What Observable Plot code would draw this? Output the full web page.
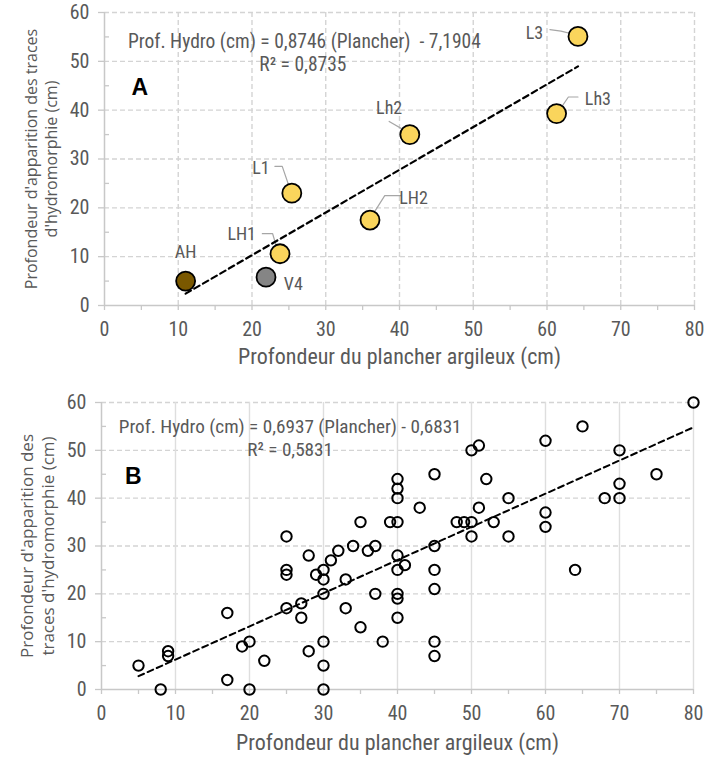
<!DOCTYPE html>
<html><head><meta charset="utf-8">
<script src="https://cdn.jsdelivr.net/npm/d3@7"></script>
<script src="https://cdn.jsdelivr.net/npm/@observablehq/plot@0.6"></script>
<style>
body{margin:0;background:#fff;width:706px;height:760px;overflow:hidden}
#chart svg{display:block}
</style></head><body><div id="chart"></div>
<script>
// ---------- Panel A data ----------
const namesA   = ["AH","V4","LH1","L1","LH2","Lh2","Lh3","L3"];
const plancherA = [11.0, 21.9, 23.8, 25.4, 36.0, 41.4, 61.3, 64.2];
const hydroA    = [5.0, 5.8, 10.6, 23.0, 17.5, 35.0, 39.3, 55.1];
const groupA    = ["AH","V4","L","L","L","L","L","L"];
const colorsA   = {AH:"#7a5800", V4:"#858585", L:"#fad55c"};
// label anchor positions (data units)
const labelXA = [11.0, 25.6, 18.6, 21.2, 41.9, 38.6, 66.9, 58.3];
const labelYA = [11.0, 4.4, 14.5, 28.1, 22.0, 40.3, 42.3, 55.8];
// leader lines (polyline per label)
const leadersA = [
  {name:"V4",  x:[22.4, 23.0], y:[5.4, 4.6]},
  {name:"LH1", x:[21.4, 22.8, 23.5], y:[14.7, 14.7, 11.1]},
  {name:"L1",  x:[23.1, 24.1, 25.3], y:[28.5, 28.5, 23.2]},
  {name:"LH2", x:[40.2, 38.0, 36.2], y:[22.5, 22.5, 18.2]},
  {name:"Lh2", x:[38.6, 41.1], y:[37.7, 35.5]},
  {name:"Lh3", x:[64.2, 62.9, 61.5], y:[42.7, 42.7, 39.6]},
  {name:"L3",  x:[60.4, 61.9, 64.0], y:[56.5, 56.2, 55.4]}
];
const slopeA = 0.8746, interceptA = -7.1904;
const eqA1 = "Prof. Hydro (cm) = 0,8746 (Plancher)  - 7,1904";
const eqA2 = "R² = 0,8735";

// ---------- Panel B data ----------
const plancherB = [5,8,9,9,17,17,19,20,20,22,
  25,25,25,25,27,27,28,28,29,
  30,30,30,30,30,30,31,32,33,33,
  34,35,35,36,37,37,38,39,
  40,40,40,40,40,40,40,40,40,41,
  43,45,45,45,45,45,45,
  48,49,50,50,50,51,51,52,53,
  55,55,60,60,60,64,65,68,
  70,70,70,75,80];
const hydroB = [5,0,8,7,16,2,9,10,0,6,
  32,25,24,17,18,15,28,8,24,
  25,23,20,10,5,0,27,29,23,17,
  30,35,13,29,30,20,10,35,
  44,42,40,35,28,25,20,19,15,26,
  38,45,30,25,21,10,7,
  35,35,35,32,50,51,38,44,35,
  40,32,52,37,34,25,55,40,
  50,43,40,45,60];
const slopeB = 0.6937, interceptB = -0.6831;
const eqB1 = "Prof. Hydro (cm) = 0,6937 (Plancher) - 0,6831";
const eqB2 = "R² = 0,5831";

// ---------- axes ----------
const xTicks = [0,10,20,30,40,50,60,70,80];
const xMinor = [5,15,25,35,45,55,65,75];
const yTicks = [0,10,20,30,40,50,60];
const yMinor = [5,15,25,35,45,55];
const xTitle = "Profondeur du plancher argileux (cm)";
const yTitleA = "Profondeur d'apparition des traces\nd'hydromorphie (cm)";
const yTitleB = "Profondeur d'apparition des\ntraces d'hydromorphie (cm)";

const TXT = "#595959";
const narrow = "'Liberation Sans Narrow','Roboto Condensed','Arial Narrow',sans-serif";
const wide = "'Open Sans',sans-serif";

function trend(xs, a, b) {
  const lo = d3.min(xs), hi = d3.max(xs);
  return [{x: lo, y: a*lo + b}, {x: hi, y: a*hi + b}];
}

function frameMarks(vDash) {
  return [
    Plot.gridY(yTicks.slice(1), {stroke:"#d4d4d4", strokeOpacity:1, strokeWidth:1.4, strokeDasharray:"5,3"}),
    Plot.gridX(xTicks.slice(1), {stroke: vDash ? "#d4d4d4" : "#dedede", strokeOpacity:1, strokeWidth:1.4, strokeDasharray: vDash ? "5,3" : null}),
    Plot.ruleY([0], {stroke:"#c8c8c8", strokeWidth:1.5}),
    Plot.ruleX([0], {stroke:"#c8c8c8", strokeWidth:1.5}),
    Plot.axisX(xTicks, {tickSize:5, tickPadding:11, stroke:"#c8c8c8", strokeWidth:1.3, fill:TXT, fontSize:20, fontFamily:narrow, label:null}),
    Plot.axisX(xMinor, {tickSize:5, tickFormat:() => "", stroke:"#c8c8c8", strokeWidth:1.3, label:null}),
    Plot.axisY(yTicks, {tickSize:6, tickPadding:9, stroke:"#c8c8c8", strokeWidth:1.3, fill:TXT, fontSize:20, fontFamily:narrow, label:null}),
    Plot.axisY(yMinor, {tickSize:-5, tickFormat:() => "", stroke:"#c8c8c8", strokeWidth:1.3, label:null})
  ];
}

// ---------- Panel A ----------
const dataA = namesA.map((n,i) => ({name:n, x:plancherA[i], y:hydroA[i], g:groupA[i], lx:labelXA[i], ly:labelYA[i]}));
const leaderRows = leadersA.flatMap(l => l.x.map((x,i) => ({name:l.name, x, y:l.y[i]})));

const plotA = Plot.plot({
  width:706, height:372,
  marginTop:12, marginBottom:67, marginLeft:104, marginRight:12,
  x:{domain:[0,80], label:null},
  y:{domain:[0,60], label:null},
  style:{fontFamily:narrow, color:TXT, background:"#fff", overflow:"visible"},
  marks:[
    ...frameMarks(true),
    Plot.line(leaderRows, {x:"x", y:"y", z:"name", stroke:"#a6a6a6", strokeWidth:1.2}),
    Plot.line(trend(plancherA, slopeA, interceptA), {x:"x", y:"y", stroke:"#000", strokeWidth:2.2, strokeDasharray:"6,4"}),
    Plot.dot(dataA, {x:"x", y:"y", r:9.5, fill:d => colorsA[d.g], stroke:"#000", strokeWidth:1.8}),
    Plot.text(dataA, {x:"lx", y:"ly", text:"name", fill:TXT, fontSize:18, fontFamily:narrow}),
    Plot.text([eqA1], {x:27.1, y:54.1, text:d=>d, fill:TXT, fontSize:19.5, fontFamily:narrow}),
    Plot.text([eqA2], {x:26.9, y:49.4, text:d=>d, fill:TXT, fontSize:19.5, fontFamily:narrow}),
    Plot.text(["A"], {x:4.8, y:44.6, text:d=>d, fill:"#000", fontSize:23, fontWeight:"bold", fontFamily:"'Liberation Sans',sans-serif"}),
    Plot.text([xTitle], {frameAnchor:"bottom", dy:58, text:d=>d, fill:TXT, fontSize:22, fontFamily:narrow}),
    Plot.text([yTitleA], {frameAnchor:"left", dx:-64, rotate:-90, textAnchor:"middle", text:d=>d, fill:TXT, fontSize:16, fontFamily:wide, lineHeight:1.25})
  ]
});

// ---------- Panel B ----------
const dataB = plancherB.map((x,i) => ({x, y:hydroB[i]}));
const plotB = Plot.plot({
  width:706, height:388,
  marginTop:30, marginBottom:71, marginLeft:101, marginRight:13,
  x:{domain:[0,80], label:null},
  y:{domain:[0,60], label:null},
  style:{fontFamily:narrow, color:TXT, background:"#fff", overflow:"visible"},
  marks:[
    ...frameMarks(false),
    Plot.line(trend(plancherB, slopeB, interceptB), {x:"x", y:"y", stroke:"#000", strokeWidth:2, strokeDasharray:"6,4"}),
    Plot.dot(dataB, {x:"x", y:"y", r:5.2, fill:"#fff", fillOpacity:0, stroke:"#000", strokeWidth:2}),
    Plot.text([eqB1], {x:25.5, y:55.0, text:d=>d, fill:TXT, fontSize:19.2, fontFamily:narrow}),
    Plot.text([eqB2], {x:25.5, y:50.0, text:d=>d, fill:TXT, fontSize:19.2, fontFamily:narrow}),
    Plot.text(["B"], {x:4.3, y:44.6, text:d=>d, fill:"#000", fontSize:23, fontWeight:"bold", fontFamily:"'Liberation Sans',sans-serif"}),
    Plot.text([xTitle], {frameAnchor:"bottom", dy:60, text:d=>d, fill:TXT, fontSize:22, fontFamily:narrow}),
    Plot.text([yTitleB], {frameAnchor:"left", dx:-65, rotate:-90, textAnchor:"middle", text:d=>d, fill:TXT, fontSize:17, fontFamily:wide, lineHeight:1.28})
  ]
});

document.getElementById("chart").append(plotA, plotB);
</script></body></html>
